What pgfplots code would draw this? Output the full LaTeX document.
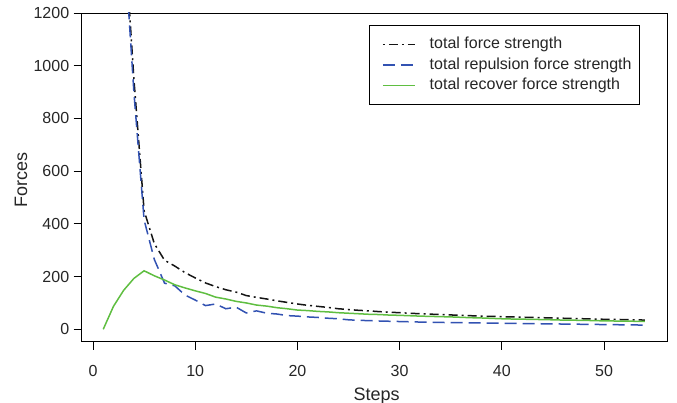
\documentclass[border=0pt]{standalone}
\usepackage{fontspec}
\setmainfont{Liberation Sans}
\usepackage{pgfplots}
\pgfplotsset{compat=1.18}

\definecolor{totblack}{RGB}{20,20,20}
\definecolor{repblue}{RGB}{50,82,178}
\definecolor{recgreen}{RGB}{95,190,65}

% steps 1..54
\pgfplotstableread{
step total repulsion recover
1  6000 6000 0
2  3000 3000 87
3  1550 1500 148
4  950  900  193
5  450  415  222
6  325  265  203
7  262  175  187
8  240  165  169
9  215  130  157
10 195  111  146
11 176  90   136
12 162  96   122
13 150  78   115
14 141  84   106
15 128  62   100
16 121  70   92
17 115  61   88
18 108  58   82
19 102  52   78
20 96   50   73
21 91   47   71
22 87   45   68
23 83   42   66
24 78   40   63
25 75   36   61
26 72   34   59
27 70   33   57
28 67   31.5 56
29 65   30.5 54
30 63   29.5 53
31 61   28.5 51.5
32 59   27.5 50
33 57.5 27   49
34 56   26   48
35 54.5 25.5 47
36 53   25   45.5
37 51.5 24.5 44
38 50   24   43
39 49   23.5 41.5
40 48   23   40
41 47   22.5 39
42 46   22   38.5
43 45   21.5 37.5
44 44   21   37
45 43   20.5 36
46 42   20   35
47 41   19.5 34.5
48 40   19   34
49 39   18.5 33
50 38   18   32
51 37.5 17.5 31.5
52 37   17   31
53 36   16.5 30.5
54 35   16   30
}\forcedata

\begin{document}
\begin{tikzpicture}
\path[use as bounding box] (-81.7pt,-61.3pt) rectangle (595.3pt,341.7pt);
\begin{axis}[
  at={(0pt,0pt)}, anchor=south west,
  scale only axis, width=585.3pt, height=328.7pt,
  xmin=-1.106, xmax=56.16, ymin=-47, ymax=1200,
  xtick={0,10,...,50}, ytick={0,200,...,1200},
  xtick pos=bottom, ytick pos=left,
  tick align=outside, major tick length=8pt,
  tick style={black, line width=0.9pt},
  axis line style={black, line width=0.9pt},
  /pgf/number format/assume math mode=true,
  /pgf/number format/1000 sep={},
  ticklabel style={font=\fontsize{16}{19}\selectfont, text=black!85},
  yticklabel style={xshift=-1pt},
  xticklabel style={yshift=-12pt},
  xlabel={Steps}, ylabel={Forces},
  label style={font=\fontsize{18}{21}\selectfont, text=black!85},
  xlabel style={at={(axis description cs:0.5037,-0.1774)}, anchor=base},
  ylabel style={at={(axis description cs:-0.1037,0.493)}, anchor=center},
  legend style={at={(axis description cs:0.9539,0.9635)}, anchor=north east,
    draw=black, line width=0.8pt, font=\fontsize{16}{19}\selectfont,
    inner xsep=8pt, inner ysep=9pt, row sep=0pt,
    nodes={inner xsep=0pt, inner ysep=2.5pt, text height=12pt, text depth=3.5pt, text=black!85},
    /tikz/every odd column/.append style={column sep=14pt}},
  legend cell align=left,
  legend image code/.code={%
    \path[draw=none, fill=none] (0pt,-2pt) rectangle (38pt,2pt);
    \draw[#1] (6pt,0pt) -- (38pt,0pt);},
  clip=true,
]
\addplot[totblack, line width=1.5pt, dash pattern=on 2pt off 4pt on 9pt off 4pt]
  table[x=step, y=total] {\forcedata};
\addplot[repblue, line width=1.5pt, dash pattern=on 12pt off 6pt]
  table[x=step, y=repulsion] {\forcedata};
\addplot[recgreen, line width=1.5pt]
  table[x=step, y=recover] {\forcedata};
\legend{total force strength, total repulsion force strength, total recover force strength}
\end{axis}
\end{tikzpicture}
\end{document}
